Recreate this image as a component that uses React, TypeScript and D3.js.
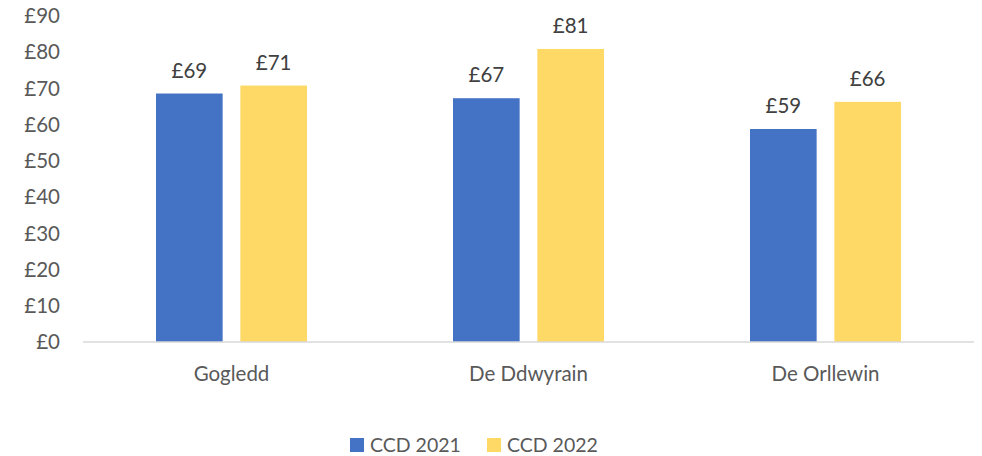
import React from "react";
import * as d3 from "d3";

// chart data
const regions = ["Gogledd", "De Ddwyrain", "De Orllewin"];
const seriesNames = ["CCD 2021", "CCD 2022"];
const ccd2021 = [68.6, 67.3, 58.8];
const ccd2022 = [70.8, 80.9, 66.3];
const yTicks = [0, 10, 20, 30, 40, 50, 60, 70, 80, 90];
const colors = ["#4472c4", "#ffd966"];

const W = 982, H = 456;
const margin = { top: 16, right: 8, bottom: 114, left: 83 };
const font = "Lato, 'Open Sans', sans-serif";
const fs = 20.5;

export default function App() {
  const width = W - margin.left - margin.right;
  const height = H - margin.top - margin.bottom;

  const x0 = d3.scaleBand().domain(regions).range([0, width]).paddingInner(0).paddingOuter(0);
  const x1 = d3.scaleBand().domain(seriesNames).range([73, x0.bandwidth() - 73]).paddingInner(0.21);
  const y = d3.scaleLinear().domain([0, 90]).range([height, 0]);

  const rows = regions.map((r, i) => ({
    region: r,
    values: [
      { name: seriesNames[0], value: ccd2021[i] },
      { name: seriesNames[1], value: ccd2022[i] },
    ],
  }));

  return (
    <svg width={W} height={H} style={{ position: "absolute", left: 0, top: 0, background: "#fff" }}>
      <g transform={`translate(${margin.left},${margin.top})`} fontFamily={font}>
        {/* y axis labels */}
        {yTicks.map((t) => (
          <text key={t} x={-23} y={y(t)} dy="0.35em" textAnchor="end" fontSize={fs} fill="#595959">
            £{t}
          </text>
        ))}
        {/* bars */}
        {rows.map((row) => (
          <g key={row.region} transform={`translate(${x0(row.region)},0)`}>
            {row.values.map((d, j) => (
              <g key={d.name}>
                <rect
                  x={x1(d.name)}
                  y={y(d.value)}
                  width={x1.bandwidth()}
                  height={height - y(d.value)}
                  fill={colors[j]}
                />
                <text
                  x={(x1(d.name) || 0) + x1.bandwidth() / 2}
                  y={y(d.value) - 16}
                  textAnchor="middle"
                  fontSize={fs}
                  fill="#404040"
                >
                  £{Math.round(d.value)}
                </text>
              </g>
            ))}
            <text
              x={x0.bandwidth() / 2}
              y={height + 32}
              dy="0.35em"
              textAnchor="middle"
              fontSize={fs}
              fill="#595959"
            >
              {row.region}
            </text>
          </g>
        ))}
        {/* x axis line */}
        <line x1={0} x2={width} y1={height} y2={height} stroke="#d9d9d9" strokeWidth={1.5} />
      </g>
      {/* legend */}
      <g fontFamily={font} fontSize={19.5} fill="#595959">
        {seriesNames.map((s, i) => (
          <g key={s} transform={`translate(${350 + i * 137},444)`}>
            <rect x={0} y={-6} width={14} height={14} fill={colors[i]} />
            <text x={20} y={0} dy="0.4em">{s}</text>
          </g>
        ))}
      </g>
    </svg>
  );
}
